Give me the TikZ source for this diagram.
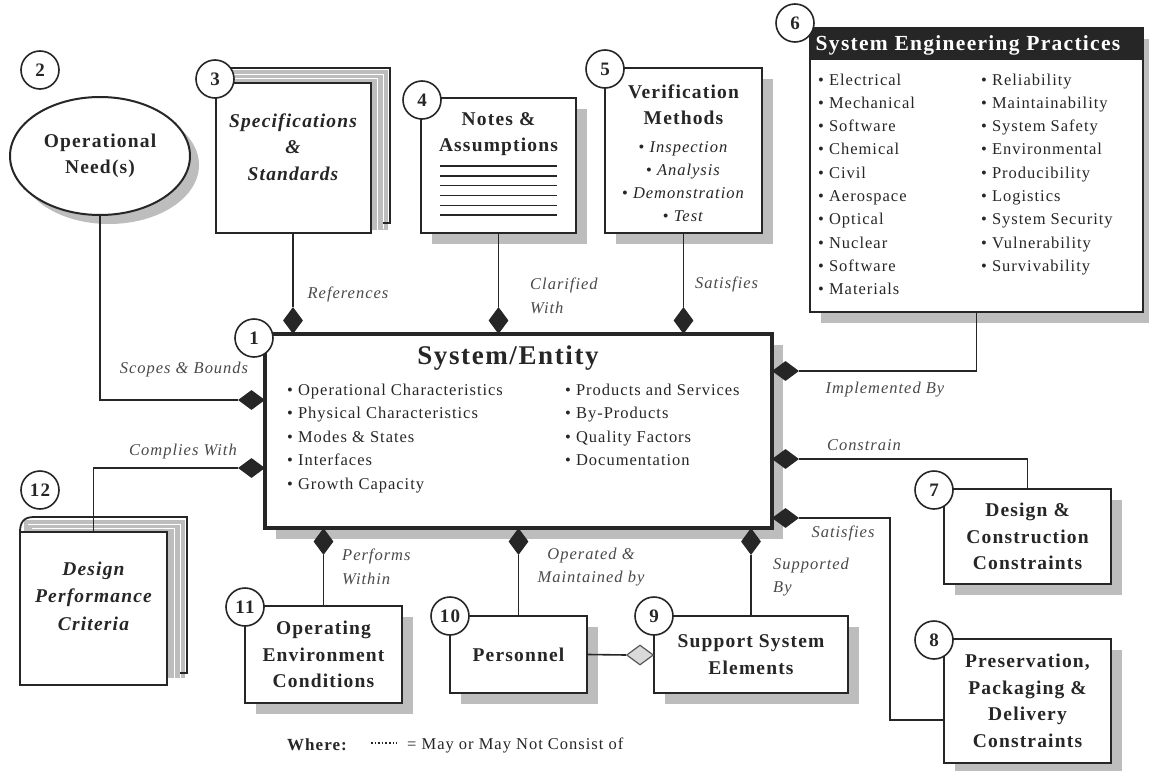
\documentclass[tikz,border=0pt]{standalone}
\usepackage{fontspec}
\setmainfont{Liberation Serif}[LetterSpace=6]
\usetikzlibrary{shapes.geometric,shadows,calc}
\definecolor{ink}{HTML}{262626}
\definecolor{lab}{HTML}{4A4A4A}
\definecolor{shd}{HTML}{BDBDBD}
\begin{document}
\begin{tikzpicture}[x=1pt,y=-1pt,
  box/.style={draw=ink, line width=2pt, fill=white, align=center, inner sep=0pt, text=ink,
    drop shadow={shadow xshift=11pt, shadow yshift=-11pt, fill=shd, opacity=1}},
  num/.style={circle, draw=ink, line width=1.6pt, fill=white, minimum size=38pt, inner sep=0pt,
    font=\fontsize{19}{19}\selectfont\bfseries, text=ink},
  con/.style={draw=ink, line width=1.6pt},
  dv/.style={diamond, fill=ink, minimum width=20pt, minimum height=27pt, inner sep=0pt},
  dh/.style={diamond, fill=ink, minimum width=27pt, minimum height=20pt, inner sep=0pt},
  lbl/.style={font=\fontsize{16.5}{23.5}\selectfont\itshape, text=lab, inner sep=0pt},
  ttl/.style={font=\fontsize{19.5}{26.5}\selectfont\bfseries, text=ink},
  itm/.style={font=\fontsize{16.5}{23}\selectfont, text=ink, inner sep=0pt, anchor=base west}]
\useasboundingbox (0,0) rectangle (1149,771);
\fill[white] (0,0) rectangle (1149,771);

% ---------- 2 Operational need
\node[ellipse, draw=ink, line width=2pt, fill=white, minimum width=180pt, minimum height=118pt,
  inner sep=0pt, align=center, ttl,
  drop shadow={shadow xshift=9pt, shadow yshift=-9pt, fill=shd, opacity=1}] (need) at (100,156) {Operational\\Need(s)};
\node[num] (n2) at (40,70) {2};

% ---------- 3 Specifications (book)
\fill[shd] (222,70) rectangle (388,230);
\draw[white, line width=1pt] (226,74) -- (383,74) -- (383,229);
\draw[white, line width=1pt] (230,78) -- (377,78) -- (377,231);
\draw[ink, line width=1.8pt] (222,68) -- (390,68) -- (390,223) -- (383,223);
\node[draw=ink, line width=2pt, fill=white, minimum width=155pt, minimum height=150pt, inner sep=0pt] (spec) at (293,158) {};
\node[font=\fontsize{19.5}{26.5}\selectfont\bfseries\itshape, text=ink, align=center] (spect) at (293,147) {Specifications\\\&\\Standards};
\node[num] (n3) at (215,79) {3};

% ---------- 4 Notes
\node[box, minimum width=155pt, minimum height=135pt] (notes) at (498.5,165.5) {};
\node[ttl, align=center] (notest) at (498.5,134) {Notes \&\\Assumptions};
\foreach \k in {0,...,5}
  \draw[ink, line width=1.4pt] (440,166+9.8*\k) -- (557,166+9.8*\k);
\node[num] (n4) at (422,100) {4};

% ---------- 5 Verification
\node[box, minimum width=157pt, minimum height=165pt] (ver) at (683.5,150.5) {};
\node[ttl, align=center] (vert) at (683.5,104.5) {Verification\\Methods};
\node[font=\fontsize{16.5}{23}\selectfont, text=ink, align=center] (veri) at (683.5,182) {%
  \textbullet\ \textit{Inspection}\\\textbullet\ \textit{Analysis}\\\textbullet\ \textit{Demonstration}\\\textbullet\ \textit{Test}};
\node[num] (n5) at (605,69) {5};

% ---------- 6 System engineering practices
\node[box, minimum width=333pt, minimum height=284pt] (sep) at (976.5,170) {};
\fill[ink] (sep.north west) rectangle ($(sep.north east)+(0,33)$);
\node[font=\fontsize{21.5}{22}\selectfont\bfseries, text=white] (sept) at (968,45.5) {System Engineering Practices};
\foreach \t [count=\i] in {Electrical,Mechanical,Software,Chemical,Civil,Aerospace,Optical,Nuclear,Software,Materials}
  \node[itm] (sepl\i) at (818,61.7+23.3*\i) {\textbullet\ \t};
\foreach \t [count=\i] in {Reliability,Maintainability,System Safety,Environmental,Producibility,Logistics,System Security,Vulnerability,Survivability}
  \node[itm] (sepr\i) at (981,61.7+23.3*\i) {\textbullet\ \t};
\node[num] (n6) at (795,23) {6};

% ---------- 1 System / Entity
\node[box, line width=3.5pt, minimum width=507pt, minimum height=194pt] (sys) at (518.5,431) {};
\node[font=\fontsize{27}{28}\selectfont\bfseries, text=ink] (syst) at (508,358) {System/Entity};
\foreach \t [count=\i] in {Operational Characteristics,Physical Characteristics,Modes \& States,Interfaces,Growth Capacity}
  \node[itm] (sysl\i) at (287,371.5+23.5*\i) {\textbullet\ \t};
\foreach \t [count=\i] in {Products and Services,By-Products,Quality Factors,Documentation}
  \node[itm] (sysr\i) at (565,371.5+23.5*\i) {\textbullet\ \t};
\node[num] (n1) at (254,338) {1};

% ---------- 12 Design performance criteria (book)
\fill[shd] (24,520) rectangle (185,678);
\draw[white, line width=1pt] (28,524) -- (180,524) -- (180,680);
\draw[white, line width=1pt] (32,528) -- (174,528) -- (174,682);
\draw[ink, line width=1.8pt] (20,532) .. controls (20,522) and (24,517) .. (34,517) -- (187,517) -- (187,673) -- (180,673);
\node[draw=ink, line width=2pt, fill=white, minimum width=147pt, minimum height=153pt, inner sep=0pt] (dpc) at (93.5,608.5) {};
\node[font=\fontsize{19.5}{27.5}\selectfont\bfseries\itshape, text=ink, align=center] (dpct) at (93.5,596) {Design\\Performance\\Criteria};
\node[num] (n12) at (40,490) {12};

% ---------- 11 Operating environment
\node[box, ttl, minimum width=157pt, minimum height=97pt] (oec) at (323.5,654.5) {Operating\\Environment\\Conditions};
\node[num] (n11) at (245,607) {11};

% ---------- 10 Personnel
\node[box, ttl, minimum width=137pt, minimum height=77pt] (pers) at (518.5,654.5) {Personnel};
\node[num] (n10) at (450,616) {10};

% ---------- 9 Support system elements
\node[box, ttl, minimum width=194pt, minimum height=77pt] (sse) at (751,654.5) {Support System\\Elements};
\node[num] (n9) at (654,616) {9};

% ---------- 7 Design & construction constraints
\node[box, ttl, minimum width=167pt, minimum height=95pt] (dcc) at (1027.5,536.5) {Design \&\\Construction\\Constraints};
\node[num] (n7) at (934,490) {7};

% ---------- 8 Preservation
\node[box, ttl, minimum width=167pt, minimum height=124pt] (ppd) at (1027.5,701) {Preservation,\\Packaging \&\\Delivery\\Constraints};
\node[num] (n8) at (934,640) {8};

% ---------- diamonds
\node[dv] (dR) at (293,320.5) {};
\node[dv] (dN) at (498.5,320.5) {};
\node[dv] (dV) at (683.5,320.5) {};
\node[dh] (dS) at (251.5,400) {};
\node[dh] (dC) at (251.5,468) {};
\node[dh] (dI) at (785.5,371) {};
\node[dh] (dCo) at (785.5,459) {};
\node[dh] (dSa) at (785.5,518) {};
\node[dv] (dP) at (323.5,541.5) {};
\node[dv] (dO) at (518.5,541.5) {};
\node[dv] (dSu) at (751,541.5) {};
\node[diamond, fill=gray!30, draw=gray!70!black, line width=1.2pt, minimum width=27pt, minimum height=20pt, inner sep=0pt] (dH) at (640,655) {};

% ---------- connectors
\coordinate (c8) at (890,518);
\draw[con] (spec.south) -- (dR.north);
\draw[con] (notes.south) -- (dN.north);
\draw[con] (ver.south) -- (dV.north);
\draw[con] (need.south) |- (dS.west);
\draw[con] (dpc.north) |- (dC.west);
\draw[con] (sep.south) |- (dI.east);
\draw[con] (dcc.north) |- (dCo.east);
\draw[con] ([yshift=-19pt]ppd.west) -| (c8) -- (dSa.east);
\draw[con] (oec.north) -- (dP.south);
\draw[con] (pers.north) -- (dO.south);
\draw[con] (sse.north) -- (dSu.south);
\draw[con] (pers.east) -- (dH.west);

% ---------- labels
\node[lbl] (lS) at (184,370) {Scopes \& Bounds};
\node[lbl] (lC) at (183,452) {Complies With};
\node[lbl] (lR) at (348,294) {References};
\node[lbl, anchor=west, align=left] (lN) at (530,296) {Clarified\\With};
\node[lbl, anchor=west] (lV) at (695,284) {Satisfies};
\node[lbl] (lI) at (885,390) {Implemented By};
\node[lbl] (lCo) at (864,445) {Constrain};
\node[lbl] (lSa) at (843,533) {Satisfies};
\node[lbl, anchor=west, align=left] (lSu) at (773,577) {Supported\\By};
\node[lbl, align=center] (lO) at (591,567) {Operated \&\\Maintained by};
\node[lbl, anchor=west, align=left] (lP) at (342,567) {Performs\\Within};

% ---------- legend
\node[font=\fontsize{17}{18}\selectfont\bfseries, text=ink] (lw) at (317,745) {Where:};
\draw[ink, line width=1.6pt, dotted] (371,743) -- (397,743);
\node[font=\fontsize{16.5}{18}\selectfont, text=ink, anchor=west, inner sep=0pt] (lm) at (407,745) {= May or May Not Consist of};
\end{tikzpicture}
\end{document}
